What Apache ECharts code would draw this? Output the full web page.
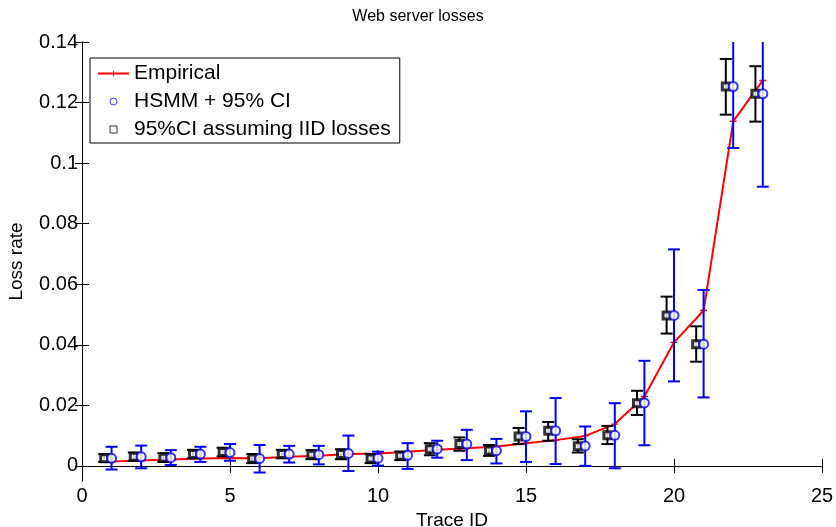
<!DOCTYPE html>
<html>
<head>
<meta charset="utf-8">
<script src="https://cdn.jsdelivr.net/npm/echarts@6/dist/echarts.min.js"></script>
<style>
  html, body { margin: 0; padding: 0; background: #fff; }
  #chart { width: 836px; height: 527px; }
</style>
</head>
<body>
<div id="chart"></div>
<script>
// trace ids on the x axis
var traceIds = [1,2,3,4,5,6,7,8,9,10,11,12,13,14,15,16,17,18,19,20,21,22,23];

// empirical loss rate (red line)
var empirical = [0.0014,0.0018,0.0021,0.0024,0.0026,0.0025,0.0030,0.0033,0.0039,0.0041,0.0047,0.0053,
  0.0058,0.0064,0.0075,0.0085,0.0099,0.0138,0.0229,0.0408,0.0513,0.1138,0.1273];

// HSMM estimate + 95% CI (blue)
var hsmm = [0.0025,0.0030,0.0027,0.0039,0.0044,0.0024,0.0039,0.0037,0.0041,0.0025,0.0035,0.0056,
  0.0072,0.0050,0.0097,0.0116,0.0066,0.0101,0.0208,0.0497,0.0402,0.1253,0.1229];
var hsmmLow = [-0.0012,-0.0008,0.0003,0.0013,0.0017,-0.0022,0.0011,0.0005,-0.0017,0.0001,-0.0010,0.0027,
  0.0019,0.0008,0.0013,0.0006,0.0000,-0.0008,0.0068,0.0279,0.0226,0.1050,0.0922];
var hsmmHigh = [0.0063,0.0067,0.0052,0.0063,0.0072,0.0069,0.0066,0.0066,0.0100,0.0047,0.0075,0.0083,
  0.0119,0.0089,0.0180,0.0224,0.0130,0.0207,0.0347,0.0715,0.0581,0.1456,0.1536];

// 95% CI assuming IID losses (black)
var iid = [0.0025,0.0030,0.0027,0.0039,0.0046,0.0024,0.0039,0.0037,0.0039,0.0024,0.0033,0.0055,
  0.0072,0.0051,0.0097,0.0116,0.0065,0.0101,0.0207,0.0497,0.0402,0.1253,0.1229];
var iidLow = [0.0013,0.0017,0.0013,0.0025,0.0031,0.0009,0.0025,0.0022,0.0022,0.0009,0.0019,0.0035,
  0.0050,0.0033,0.0072,0.0083,0.0044,0.0072,0.0168,0.0437,0.0344,0.1160,0.1137];
var iidHigh = [0.0039,0.0044,0.0042,0.0053,0.0060,0.0039,0.0053,0.0052,0.0055,0.0039,0.0047,0.0075,
  0.0094,0.0069,0.0125,0.0145,0.0088,0.0132,0.0248,0.0559,0.0461,0.1344,0.1320];

var xTicks = [0, 5, 10, 15, 20, 25];
var yTicks = [0, 0.02, 0.04, 0.06, 0.08, 0.1, 0.12, 0.14];

var FONT = '"Liberation Sans", Arial, Helvetica, sans-serif';
var IID_SHIFT = 0.25; // black markers drawn a bit left of the blue ones

var chart = echarts.init(document.getElementById('chart'));

function errorBar(color) {
  return function (params, api) {
    var x = api.value(0);
    var top = api.coord([x, api.value(2)]);
    var bot = api.coord([x, api.value(1)]);
    var w = 6;
    var st = { stroke: color, lineWidth: 2 };
    return {
      type: 'group',
      children: [
        { type: 'line', shape: { x1: top[0], y1: top[1], x2: bot[0], y2: bot[1] }, style: st },
        { type: 'line', shape: { x1: top[0] - w, y1: top[1], x2: top[0] + w, y2: top[1] }, style: st },
        { type: 'line', shape: { x1: bot[0] - w, y1: bot[1], x2: bot[0] + w, y2: bot[1] }, style: st }
      ]
    };
  };
}

var plus = 'path://M-1,-5H1V-1H5V1H1V5H-1V1H-5V-1H-1Z';
var square = 'path://M0,0H10V10H0Z';

var tickFmt = function (v) { return String(+v.toFixed(2)); };

var option = {
  backgroundColor: '#fff',
  animation: false,
  textStyle: { fontFamily: FONT },
  title: {
    text: 'Web server losses',
    left: 'center',
    top: 4,
    textStyle: { fontFamily: FONT, fontSize: 16, fontWeight: 'normal', color: '#000' }
  },
  legend: {
    orient: 'vertical',
    left: 90,
    top: 58,
    padding: [5, 9, 3, 7],
    itemGap: 7,
    itemWidth: 31,
    itemHeight: 7,
    borderColor: '#000',
    borderWidth: 1,
    backgroundColor: '#fff',
    textStyle: { fontFamily: FONT, fontSize: 21, color: '#000' },
    data: [
      { name: 'Empirical' },
      { name: 'HSMM + 95% CI', icon: 'circle', itemStyle: { borderWidth: 1 } },
      { name: '95%CI assuming IID losses', icon: square, itemStyle: { borderWidth: 1 } }
    ]
  },
  grid: { left: 82, right: 14, top: 42, bottom: 46, outerBoundsMode: 'none' },
  xAxis: [{
    type: 'value', min: 0, max: 25, interval: 5,
    name: 'Trace ID', nameLocation: 'middle', nameGap: 24,
    nameTextStyle: { fontFamily: FONT, fontSize: 19, color: '#000' },
    axisLine: { lineStyle: { color: '#000', width: 1 } },
    axisTick: { inside: true, length: 7, lineStyle: { color: '#000' } },
    axisLabel: { fontFamily: FONT, fontSize: 20, color: '#000', margin: 5 },
    splitLine: { show: false }
  }, {
    type: 'value', min: 0, max: 25, interval: 5, position: 'top',
    axisLine: { lineStyle: { color: '#000', width: 1 } },
    axisTick: { inside: true, length: 7, lineStyle: { color: '#000' } },
    axisLabel: { show: false },
    splitLine: { show: false }
  }],
  yAxis: [{
    type: 'value', min: -0.005, max: 0.14,
    name: 'Loss rate', nameLocation: 'middle', nameGap: 56,
    nameTextStyle: { fontFamily: FONT, fontSize: 19, color: '#000' },
    axisLine: { show: true, lineStyle: { color: '#000', width: 1 } },
    axisTick: { show: true, inside: true, length: 7, customValues: yTicks, lineStyle: { color: '#000' } },
    axisLabel: { fontFamily: FONT, fontSize: 20, color: '#000', margin: 4, customValues: yTicks, formatter: tickFmt },
    splitLine: { show: false }
  }, {
    type: 'value', min: -0.005, max: 0.14, position: 'right',
    axisLine: { show: true, lineStyle: { color: '#000', width: 1 } },
    axisTick: { show: true, inside: true, length: 7, customValues: yTicks, lineStyle: { color: '#000' } },
    axisLabel: { show: false },
    splitLine: { show: false }
  }],
  series: [
    {
      name: 'Empirical',
      type: 'line',
      z: 2,
      data: traceIds.map(function (t, i) { return [t, empirical[i]]; }),
      symbol: plus,
      symbolSize: 7,
      showSymbol: true,
      lineStyle: { color: '#ff0000', width: 2 },
      itemStyle: { color: '#ff0000' }
    },
    {
      type: 'custom',
      z: 3,
      clip: true,
      renderItem: errorBar('#000000'),
      encode: { x: 0, y: [1, 2] },
      data: traceIds.map(function (t, i) { return [t - IID_SHIFT, iidLow[i], iidHigh[i]]; })
    },
    {
      name: '95%CI assuming IID losses',
      type: 'scatter',
      z: 4,
      symbol: 'rect',
      symbolSize: 7,
      itemStyle: { color: '#fff', borderColor: '#000', borderWidth: 3 },
      data: traceIds.map(function (t, i) { return [t - IID_SHIFT, iid[i]]; })
    },
    {
      type: 'custom',
      z: 5,
      clip: true,
      renderItem: errorBar('#0000ff'),
      encode: { x: 0, y: [1, 2] },
      data: traceIds.map(function (t, i) { return [t, hsmmLow[i], hsmmHigh[i]]; })
    },
    {
      name: 'HSMM + 95% CI',
      type: 'scatter',
      z: 6,
      symbol: 'circle',
      symbolSize: 9,
      itemStyle: { color: '#fff', borderColor: '#0000ff', borderWidth: 2 },
      data: traceIds.map(function (t, i) { return [t, hsmm[i]]; })
    }
  ]
};

chart.setOption(option);
</script>
</body>
</html>
